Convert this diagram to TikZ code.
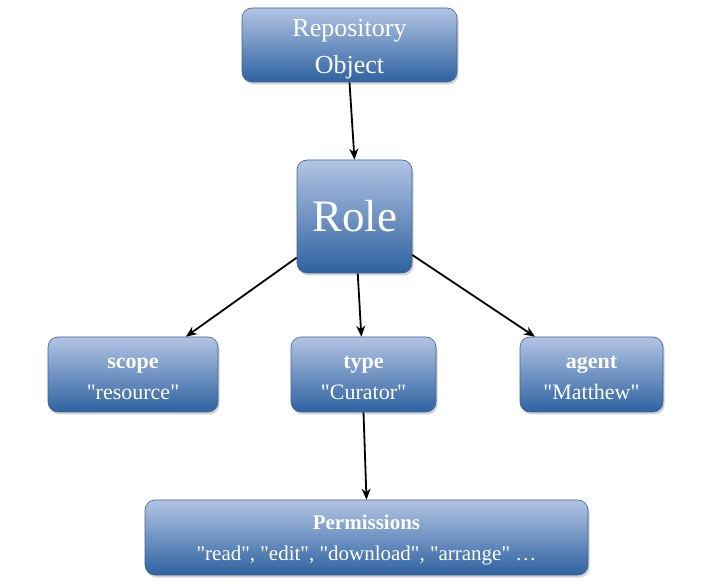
\documentclass[tikz,border=0pt]{standalone}
\usepackage{fontspec}
\setmainfont{Liberation Serif}[Ligatures=TeXOff]
\usetikzlibrary{shadows,arrows.meta}
\definecolor{boxtop}{RGB}{178,196,228}
\definecolor{boxbot}{RGB}{46,98,160}
\definecolor{boxedge}{RGB}{60,100,150}
\tikzset{
  box/.style={draw=boxedge, line width=0.6pt, rounded corners=10pt,
    top color=boxtop, bottom color=boxbot, text=white, align=center,
    drop shadow={shadow xshift=1.5pt, shadow yshift=-2.5pt, opacity=0.35},
    inner sep=0pt, font=\fontsize{22}{31}\selectfont},
  conn/.style={-{Stealth[length=11pt,width=9pt]}, line width=1.8pt, black}
}
\begin{document}
\begin{tikzpicture}[x=1pt,y=-1pt]
\useasboundingbox (0,0) rectangle (721,585);
\node[box, minimum width=215pt, minimum height=74pt, font=\fontsize{26}{37}\selectfont] (repo) at (349.5,45) {\rule{0pt}{26pt}Repository\\Object};
\node[box, minimum width=115pt, minimum height=113pt, font=\fontsize{45}{50}\selectfont] (role) at (354.5,216.5) {Role};
\node[box, minimum width=170pt, minimum height=75pt] (scope) at (133,374.5) {\rule{0pt}{20pt}\textbf{scope}\\"resource"};
\node[box, minimum width=145pt, minimum height=75pt] (type) at (363.5,374.5) {\rule{0pt}{20pt}\textbf{type}\\"Curator"};
\node[box, minimum width=143pt, minimum height=75pt] (agent) at (591.5,374.5) {\rule{0pt}{20pt}\textbf{agent}\\"Matthew"};
\node[box, minimum width=443pt, minimum height=75pt, font=\fontsize{21}{31}\selectfont] (perm) at (366.5,537.5) {\rule{0pt}{19pt}\textbf{Permissions}\\"read", "edit", "download", "arrange" \dots};
\draw[conn] (repo.south) -- (role.north);
\draw[conn] (role) -- (scope);
\draw[conn] (role) -- (type);
\draw[conn] (role) -- (agent);
\draw[conn] (type.south) -- (perm.north);
\end{tikzpicture}
\end{document}
